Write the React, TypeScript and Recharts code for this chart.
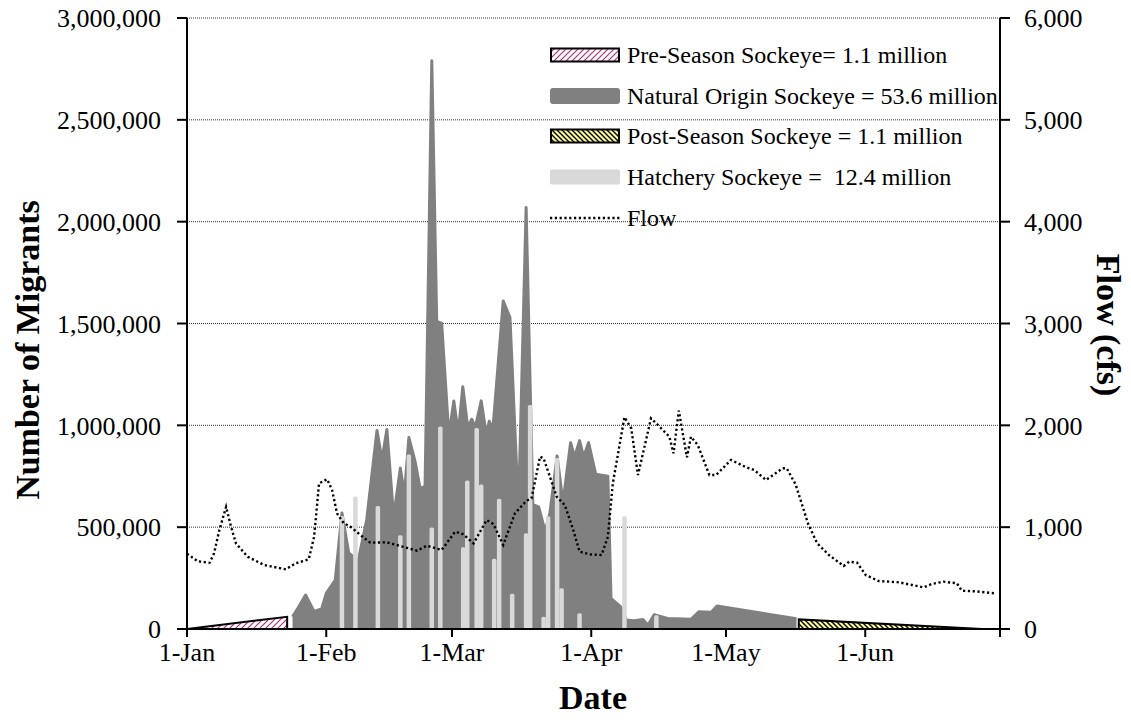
import React from 'react';
import { ComposedChart, Area, Bar, Line, XAxis, YAxis, CartesianGrid, Label } from 'recharts';

const FONT = "'Liberation Serif', 'Times New Roman', serif";
const W = 1131;
const H = 719;

// Axis ticks (day of year, 0 = 1-Jan)
const monthTickDays = [0, 31, 59, 90, 120, 151, 181];
const monthTickLabels = ['1-Jan', '1-Feb', '1-Mar', '1-Apr', '1-May', '1-Jun', ''];
const migrantTicks = [0, 500000, 1000000, 1500000, 2000000, 2500000, 3000000];
const flowTicks = [0, 1000, 2000, 3000, 4000, 5000, 6000];

// Pre-season (estimated) sockeye
const preDays = [0, 22.3, 22.3];
const preValues = [0, 60000, 0];

// Natural origin sockeye
const natDays = [23.5, 24.5, 26.4, 28.3, 30, 31, 33, 34.5, 36, 37, 38, 40, 42.3, 43.4, 44.5, 46, 47.5, 48.4, 49.4, 50.8, 51.9, 53, 54.5, 55.6, 56.7, 58.3, 59.4, 60.4, 61.4, 62.5, 63.4, 64.2, 65.5, 66.6, 67.3, 68.1, 70.4, 71.9, 73.8, 75.5, 77, 78.3, 79.7, 80.8, 82.4, 83.7, 85.4, 86.3, 87.4, 88.3, 89.4, 91, 93.7, 94.4, 96.5, 97.8, 99.6, 101.5, 102.6, 104, 107, 112.2, 114, 116.7, 118, 135.7];
const natValues = [60000, 95000, 167000, 85000, 100000, 175000, 240000, 570000, 373000, 355000, 323000, 535000, 975000, 830000, 980000, 550000, 790000, 660000, 940000, 820000, 690000, 700000, 2790000, 1510000, 1500000, 950000, 1120000, 960000, 1190000, 990000, 1030000, 990000, 1120000, 960000, 1020000, 980000, 1610000, 1530000, 580000, 2070000, 610000, 600000, 480000, 570000, 850000, 620000, 915000, 845000, 925000, 845000, 915000, 760000, 750000, 150000, 110000, 44000, 40000, 47000, 18000, 70000, 52000, 48000, 85000, 82000, 113000, 50000];

// Post-season (estimated) sockeye
const postDays = [136.2, 136.2, 177];
const postValues = [0, 47000, 0];

// Hatchery sockeye
const hatchDays = [34.5, 37.5, 42.5, 47.5, 49.4, 54.5, 56.4, 61.5, 62.4, 64.5, 65.5, 68.4, 69.5, 72.4, 75.5, 76.4, 79.4, 80.4, 82.4, 83.4, 87.4, 97.4, 104.5];
const hatchValues = [555000, 650000, 604000, 460000, 857000, 498000, 994000, 401000, 729000, 987000, 709000, 345000, 639000, 173000, 470000, 1100000, 60000, 553000, 840000, 200000, 77000, 553000, 67000];

// Flow (cfs)
const flowDays = [0, 2.4, 5, 6, 7.2, 8.7, 9.8, 10.9, 13.5, 17.2, 22, 24.2, 27.1, 28.3, 29.4, 31.2, 32.3, 33.4, 34.9, 36.4, 38.6, 40.8, 44.5, 47.5, 51.2, 53.4, 56.7, 59.7, 61.5, 63.8, 66.7, 68.2, 70.4, 73, 75.6, 76.7, 78.6, 79.4, 82.3, 84.1, 86, 87.4, 89.7, 92.3, 93.7, 94.8, 97.4, 98.9, 100.4, 102.2, 103.3, 105.2, 107.4, 108.3, 109.5, 111.3, 112.2, 113.7, 116.3, 117.8, 121.1, 124.4, 126.3, 128.9, 132.6, 133.5, 135.5, 138.3, 140.3, 142.9, 146.2, 147.4, 149.2, 151.1, 154, 158.5, 161.4, 164, 165.8, 168.4, 171.4, 172.5, 175.5, 180];
const flowValues = [740, 665, 650, 740, 970, 1200, 1005, 840, 710, 628, 586, 645, 684, 906, 1431, 1470, 1365, 1136, 1038, 1005, 923, 848, 851, 815, 769, 818, 776, 956, 930, 841, 1070, 1031, 825, 1136, 1260, 1283, 1692, 1676, 1299, 1218, 972, 759, 733, 727, 906, 1431, 2080, 1971, 1512, 1856, 2069, 1987, 1888, 1725, 2144, 1686, 1888, 1807, 1512, 1512, 1660, 1590, 1561, 1463, 1578, 1578, 1420, 1030, 841, 727, 619, 661, 651, 530, 471, 459, 432, 409, 442, 465, 449, 376, 370, 350];

const legendLabels = [
  'Pre-Season Sockeye= 1.1 million',
  'Natural Origin Sockeye = 53.6 million',
  'Post-Season Sockeye = 1.1 million',
  'Hatchery Sockeye =  12.4 million',
  'Flow',
];

const rows = (days: number[], values: number[], key: string) =>
  days.map((d, i) => ({ day: d, [key]: values[i] }));

const preRows = rows(preDays, preValues, 'pre');
const natRows = rows(natDays, natValues, 'nat');
const postRows = rows(postDays, postValues, 'post');
const hatchRows = rows(hatchDays, hatchValues, 'hatch');
const flowRows = rows(flowDays, flowValues, 'flow');

const fmt = (v: number) => v.toLocaleString('en-US');
const monthLabel = (v: number) => {
  const i = monthTickDays.indexOf(v);
  return i >= 0 ? monthTickLabels[i] : '';
};

const tickStyle = { fill: '#000', fontSize: 26, fontFamily: FONT };
const titleStyle = { fill: '#000', fontSize: 34, fontFamily: FONT, fontWeight: 'bold' as const };

const HatchBar = (p: any) => {
  if (p.height == null || p.height <= 0) return null;
  const cx = p.x + p.width / 2;
  const w = 4.5;
  return <rect x={cx - w / 2} y={p.y} width={w} height={p.height} rx={1.6} fill="#d9d9d9" />;
};

const Swatch = ({ kind }: { kind: number }) => {
  if (kind === 0)
    return (
      <svg width={70} height={16}>
        <rect x={1} y={1.5} width={68} height={13} fill="url(#prePat)" stroke="#000" strokeWidth={2} />
      </svg>
    );
  if (kind === 1)
    return (
      <svg width={70} height={16}>
        <rect x={0} y={0} width={70} height={16} rx={3} fill="#808080" />
      </svg>
    );
  if (kind === 2)
    return (
      <svg width={70} height={16}>
        <rect x={1} y={1.5} width={68} height={13} fill="url(#postPat)" stroke="#000" strokeWidth={2} />
      </svg>
    );
  if (kind === 3)
    return (
      <svg width={70} height={16}>
        <rect x={0} y={0.5} width={70} height={15} rx={2} fill="#d9d9d9" />
      </svg>
    );
  return (
    <svg width={70} height={16}>
      <line x1={0} y1={8} x2={70} y2={8} stroke="#000" strokeWidth={2.4} strokeDasharray="2.2 2.6" />
    </svg>
  );
};

export default function App() {
  return (
    <div style={{ position: 'relative', width: W, height: H, margin: '-8px 0 0 -8px', fontFamily: FONT }}>
      <svg width={0} height={0} style={{ position: 'absolute' }}>
        <defs>
          <pattern id="prePat" patternUnits="userSpaceOnUse" width={6} height={6}>
            <rect width={6} height={6} fill="#fff" />
            <path d="M-1,7 L7,-1 M-1,1 L1,-1 M5,7 L7,5" stroke="#b0307a" strokeWidth={1.2} />
          </pattern>
          <pattern id="postPat" patternUnits="userSpaceOnUse" width={5} height={5}>
            <rect width={5} height={5} fill="#ffff99" />
            <path d="M-1,-1 L6,6 M4,-1 L6,1 M-1,4 L1,6" stroke="#000" strokeWidth={1.4} />
          </pattern>
        </defs>
      </svg>
      <ComposedChart width={W} height={H} data={hatchRows} margin={{ top: 18, right: 0, bottom: 0, left: 0 }}>
        <CartesianGrid vertical={false} yAxisId="left" stroke="#333" strokeDasharray="1 1" />
        <XAxis
          dataKey="day"
          type="number"
          domain={[0, 181]}
          ticks={monthTickDays}
          interval={0}
          tickFormatter={monthLabel}
          height={90}
          axisLine={{ stroke: '#000', strokeWidth: 2 }}
          tickLine={{ stroke: '#000', strokeWidth: 2 }}
          tickSize={8}
          tickMargin={6}
          tick={tickStyle}
          allowDataOverflow
        >
          <Label
            content={() => (
              <text x={593} y={697} textAnchor="middle" dominantBaseline="central" style={titleStyle}>
                Date
              </text>
            )}
          />
        </XAxis>
        <YAxis
          yAxisId="left"
          orientation="left"
          width={187}
          domain={[0, 3000000]}
          ticks={migrantTicks}
          interval={0}
          tickFormatter={fmt}
          axisLine={{ stroke: '#000', strokeWidth: 2 }}
          tickLine={{ stroke: '#000', strokeWidth: 2 }}
          tickSize={10}
          tickMargin={16}
          tick={tickStyle}
        >
          <Label
            content={() => (
              <text
                x={27}
                y={350}
                textAnchor="middle"
                dominantBaseline="central"
                transform="rotate(-90 27 350)"
                style={titleStyle}
              >
                Number of Migrants
              </text>
            )}
          />
        </YAxis>
        <YAxis
          yAxisId="right"
          orientation="right"
          width={131}
          domain={[0, 6000]}
          ticks={flowTicks}
          interval={0}
          tickFormatter={fmt}
          axisLine={{ stroke: '#000', strokeWidth: 2 }}
          tickLine={{ stroke: '#000', strokeWidth: 2 }}
          tickSize={10}
          tickMargin={14}
          tick={tickStyle}
        >
          <Label
            content={() => (
              <text
                x={1108}
                y={325}
                textAnchor="middle"
                dominantBaseline="central"
                transform="rotate(90 1108 325)"
                style={titleStyle}
              >
                Flow (cfs)
              </text>
            )}
          />
        </YAxis>
        <Area
          yAxisId="left"
          data={preRows}
          dataKey="pre"
          type="linear"
          fill="url(#prePat)"
          fillOpacity={1}
          stroke="#000"
          strokeWidth={2}
          isAnimationActive={false}
          dot={false}
          activeDot={false}
        />
        <Area
          yAxisId="left"
          data={natRows}
          dataKey="nat"
          type="linear"
          fill="#808080"
          fillOpacity={1}
          stroke="#808080"
          strokeWidth={3}
          strokeLinejoin="round"
          isAnimationActive={false}
          dot={false}
          activeDot={false}
        />
        <Bar
          yAxisId="left"
          dataKey="hatch"
          fill="#d9d9d9"
          barSize={4}
          shape={HatchBar}
          isAnimationActive={false}
        />
        <Area
          yAxisId="left"
          data={postRows}
          dataKey="post"
          type="linear"
          fill="url(#postPat)"
          fillOpacity={1}
          stroke="#000"
          strokeWidth={2}
          isAnimationActive={false}
          dot={false}
          activeDot={false}
        />
        <Line
          yAxisId="right"
          data={flowRows}
          dataKey="flow"
          type="linear"
          stroke="#000"
          strokeWidth={2.4}
          strokeDasharray="2.2 2.6"
          dot={false}
          activeDot={false}
          isAnimationActive={false}
        />
      </ComposedChart>
      <div style={{ position: 'absolute', left: 550, top: 35 }}>
        {legendLabels.map((label, i) => (
          <div key={label} style={{ display: 'flex', alignItems: 'center', height: 40.6 }}>
            <Swatch kind={i} />
            <span style={{ marginLeft: 7, fontSize: 24, color: '#000', whiteSpace: 'pre', lineHeight: '24px' }}>
              {label}
            </span>
          </div>
        ))}
      </div>
    </div>
  );
}
